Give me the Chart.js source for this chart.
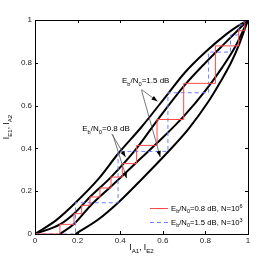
<!DOCTYPE html>
<html><head><meta charset="utf-8">
<script src="https://cdn.jsdelivr.net/npm/chart.js@4/dist/chart.umd.min.js"></script>
<style>html,body{margin:0;padding:0;background:#fff;overflow:hidden}#c{display:block}</style>
</head><body>
<div style="width:274px;height:264px"><canvas id="c" width="274" height="264"></canvas></div>
<script>
// ---- data ----
const tickValues = [0, 0.2, 0.4, 0.6, 0.8, 1];
const tickLabels = ['0', '0.2', '0.4', '0.6', '0.8', '1'];

// decoder-1 curves (start at origin)
const up15X = [0, 0.1, 0.19, 0.3, 0.39, 0.5, 0.624, 0.7, 0.8, 0.9, 0.95, 1];
const up15Y = [0, 0.065, 0.146, 0.26, 0.375, 0.5, 0.655, 0.75, 0.85, 0.935, 0.97, 1];
const up08X = [0, 0.117, 0.183, 0.258, 0.357, 0.477, 0.573, 0.698, 0.8, 0.9, 1];
const up08Y = [0, 0.045, 0.095, 0.173, 0.266, 0.4, 0.53, 0.69, 0.8, 0.9, 1];
// inverted decoder-2 curves (start on x axis)
const lo08X = [0.117, 0.183, 0.258, 0.357, 0.477, 0.573, 0.698, 0.8, 0.88, 0.94, 1];
const lo08Y = [0, 0.047, 0.13, 0.222, 0.335, 0.425, 0.55, 0.67, 0.78, 0.875, 1];
const lo15X = [0.19, 0.3, 0.39, 0.5, 0.624, 0.72, 0.815, 0.87, 0.92, 0.96, 1];
const lo15Y = [0, 0.07, 0.146, 0.255, 0.383, 0.49, 0.62, 0.71, 0.8, 0.89, 1];

// decoding trajectories (corner values)
const traj08X = [0, 0.117, 0.183, 0.219, 0.258, 0.305, 0.357, 0.41, 0.477, 0.573, 0.698, 0.847, 0.956, 0.985];
const traj08Y = [0, 0.045, 0.095, 0.134, 0.173, 0.215, 0.266, 0.329, 0.414, 0.535, 0.704, 0.879, 0.95, 0.99];
const traj15X = [0, 0.19, 0.39, 0.624, 0.815, 0.918, 0.957, 0.98, 1];
const traj15Y = [0, 0.146, 0.386, 0.66, 0.85, 0.93, 0.977, 0.995, 1];

function zip(xs, ys) { return xs.map((x, i) => ({ x: x, y: ys[i] })); }
function stairs(xs, ys) {
  const p = [{ x: xs[0], y: ys[0] }];
  for (let i = 1; i < xs.length; i++) { p.push({ x: xs[i], y: ys[i - 1] }); p.push({ x: xs[i], y: ys[i] }); }
  return p;
}

const FONT = '"Liberation Sans", Arial, Helvetica, sans-serif';
const RED = '#ff4a4a';
const BLUE = '#6f7dff';

function richWidth(ctx, parts, size) {
  let w = 0;
  for (const [t, m] of parts) { ctx.font = (m ? size * 0.72 : size) + 'px ' + FONT; w += ctx.measureText(t).width; }
  return w;
}
function rich(ctx, parts, x, y, size, align) {
  const w = richWidth(ctx, parts, size);
  let cx = align === 'center' ? x - w / 2 : (align === 'right' ? x - w : x);
  ctx.textBaseline = 'alphabetic'; ctx.textAlign = 'left';
  for (const [t, m] of parts) {
    ctx.font = (m ? size * 0.72 : size) + 'px ' + FONT;
    const dy = m === 1 ? size * 0.3 : (m === 2 ? -size * 0.42 : 0);
    ctx.fillText(t, cx, y + dy);
    cx += ctx.measureText(t).width;
  }
}
function arrow(ctx, x0, y0, x1, y1) {
  ctx.strokeStyle = '#555'; ctx.lineWidth = 0.8; ctx.setLineDash([]);
  ctx.beginPath(); ctx.moveTo(x0, y0); ctx.lineTo(x1, y1); ctx.stroke();
  const a = Math.atan2(y1 - y0, x1 - x0), L = 6, W = 2.2;
  ctx.fillStyle = '#000';
  ctx.beginPath();
  ctx.moveTo(x1, y1);
  ctx.lineTo(x1 - L * Math.cos(a) + W * Math.sin(a), y1 - L * Math.sin(a) - W * Math.cos(a));
  ctx.lineTo(x1 - L * Math.cos(a) - W * Math.sin(a), y1 - L * Math.sin(a) + W * Math.cos(a));
  ctx.closePath(); ctx.fill();
}

const overlay = {
  id: 'overlay',
  afterDraw(chart) {
    const ctx = chart.ctx, a = chart.chartArea, xs = chart.scales.x, ys = chart.scales.y;
    const X = v => xs.getPixelForValue(v), Y = v => ys.getPixelForValue(v);
    ctx.save();
    // box
    ctx.strokeStyle = '#000'; ctx.lineWidth = 1;
    ctx.strokeRect(Math.round(a.left) + 0.5, Math.round(a.top) + 0.5, Math.round(a.right - a.left), Math.round(a.bottom - a.top));
    // inward ticks
    ctx.beginPath();
    for (const v of tickValues) {
      const px = Math.round(X(v)) + 0.5, py = Math.round(Y(v)) + 0.5;
      ctx.moveTo(px, a.bottom); ctx.lineTo(px, a.bottom - 3);
      ctx.moveTo(px, a.top); ctx.lineTo(px, a.top + 3);
      ctx.moveTo(a.left, py); ctx.lineTo(a.left + 3, py);
      ctx.moveTo(a.right, py); ctx.lineTo(a.right - 3, py);
    }
    ctx.stroke();
    ctx.fillStyle = '#000';
    // axis titles
    rich(ctx, [['I', 0], ['A1', 1], [', I', 0], ['E2', 1]], (a.left + a.right) / 2, 250, 8.5, 'center');
    ctx.save(); ctx.translate(9, (a.top + a.bottom) / 2); ctx.rotate(-Math.PI / 2);
    rich(ctx, [['I', 0], ['E1', 1], [', I', 0], ['A2', 1]], 0, 0, 8.5, 'center');
    ctx.restore();
    // annotations
    ctx.fillStyle = '#000';
    rich(ctx, [['E', 0], ['b', 1], ['/N', 0], ['0', 1], ['=1.5 dB', 0]], X(0.408), Y(0.705), 8, 'left');
    arrow(ctx, X(0.5), Y(0.675), X(0.575), Y(0.62));
    arrow(ctx, X(0.5), Y(0.672), X(0.588), Y(0.36));
    ctx.fillStyle = '#000';
    rich(ctx, [['E', 0], ['b', 1], ['/N', 0], ['0', 1], ['=0.8 dB', 0]], X(0.222), Y(0.48), 8, 'left');
    arrow(ctx, X(0.36), Y(0.468), X(0.425), Y(0.36));
    arrow(ctx, X(0.365), Y(0.465), X(0.43), Y(0.26));
    // legend
    ctx.setLineDash([]); ctx.strokeStyle = RED; ctx.lineWidth = 1;
    ctx.beginPath(); ctx.moveTo(150, 208.5); ctx.lineTo(168, 208.5); ctx.stroke();
    ctx.strokeStyle = BLUE; ctx.setLineDash([4, 3]);
    ctx.beginPath(); ctx.moveTo(150, 222.5); ctx.lineTo(168, 222.5); ctx.stroke();
    ctx.setLineDash([]);
    ctx.fillStyle = '#000';
    rich(ctx, [['E', 0], ['b', 1], ['/N', 0], ['0', 1], ['=0.8 dB, N=10', 0], ['6', 2]], 171, 211, 7.7, 'left');
    rich(ctx, [['E', 0], ['b', 1], ['/N', 0], ['0', 1], ['=1.5 dB, N=10', 0], ['3', 2]], 171, 225, 7.7, 'left');
    ctx.restore();
  }
};

const curveStyle = { showLine: true, pointRadius: 0, borderColor: '#000', borderWidth: 2, cubicInterpolationMode: 'monotone', fill: false };

new Chart(document.getElementById('c'), {
  type: 'scatter',
  data: {
    datasets: [
      { label: 'traj 0.8', data: stairs(traj08X, traj08Y), showLine: true, pointRadius: 0, borderColor: RED, borderWidth: 1, tension: 0 },
      { label: 'traj 1.5', data: stairs(traj15X, traj15Y), showLine: true, pointRadius: 0, borderColor: BLUE, borderWidth: 1, borderDash: [4, 3], tension: 0 },
      Object.assign({ label: 'up15', data: zip(up15X, up15Y) }, curveStyle),
      Object.assign({ label: 'up08', data: zip(up08X, up08Y) }, curveStyle),
      Object.assign({ label: 'lo08', data: zip(lo08X, lo08Y) }, curveStyle),
      Object.assign({ label: 'lo15', data: zip(lo15X, lo15Y) }, curveStyle)
    ]
  },
  options: {
    responsive: false, animation: false, devicePixelRatio: 1,
    layout: { padding: { left: 0, top: 20, right: 26, bottom: 0 } },
    plugins: { legend: { display: false }, tooltip: { enabled: false } },
    scales: {
      x: {
        type: 'linear', min: 0, max: 1,
        afterBuildTicks: s => { s.ticks = tickValues.map(v => ({ value: v })); },
        afterFit: s => { s.height = 30; },
        ticks: { callback: (v, i) => tickLabels[i], font: { size: 8, family: FONT }, color: '#222', padding: 2, maxRotation: 0, autoSkip: false },
        grid: { display: true, drawOnChartArea: false, drawTicks: false },
        border: { display: true, color: '#000', width: 1 }
      },
      y: {
        type: 'linear', min: 0, max: 1,
        afterBuildTicks: s => { s.ticks = tickValues.map(v => ({ value: v })); },
        afterFit: s => { s.width = 35; },
        ticks: { callback: (v, i) => tickLabels[i], font: { size: 8, family: FONT }, color: '#222', padding: 3, autoSkip: false },
        grid: { display: true, drawOnChartArea: false, drawTicks: false },
        border: { display: true, color: '#000', width: 1 }
      }
    }
  },
  plugins: [overlay]
});
</script>
</body></html>
